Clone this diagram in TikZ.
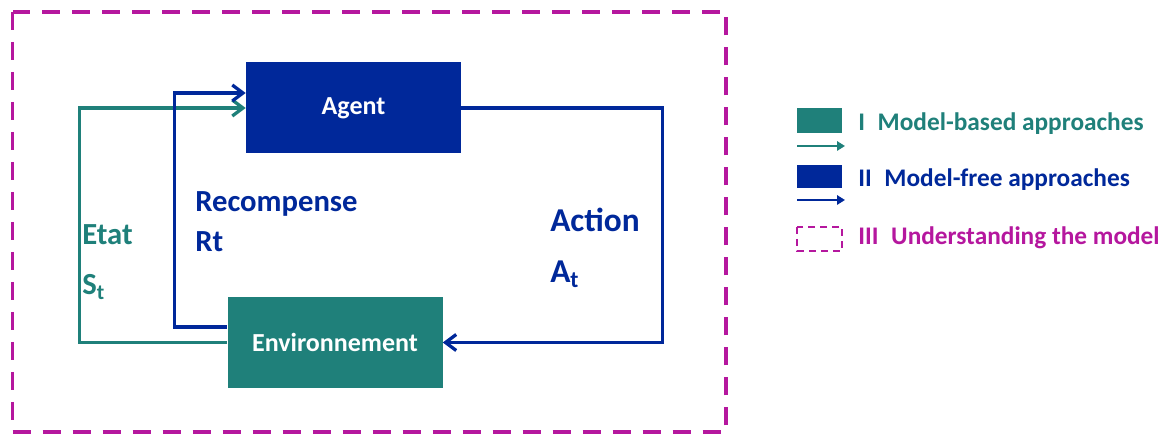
\documentclass[tikz,border=0pt]{standalone}
\usepackage{fontspec}
\setmainfont{Carlito}
\usetikzlibrary{arrows.meta}

\definecolor{tealgreen}{RGB}{31,128,122}
\definecolor{deepblue}{RGB}{0,40,154}
\definecolor{plum}{RGB}{181,23,158}

\tikzset{
	box/.style={minimum width=161.25pt,minimum height=68.25pt,inner sep=0pt,text=white,font=\bfseries\fontsize{19.5}{24}\selectfont},
	loopline/.style={line width=2.5pt,-{Straight Barb[length=8pt,width=12pt,line width=2.5pt]}},
	label/.style={anchor=base west,inner sep=0pt,font=\bfseries\fontsize{23}{27}\selectfont},
	legend/.style={anchor=base west,inner sep=0pt,font=\bfseries\fontsize{19}{23}\selectfont},
	keyarrow/.style={line width=1.8pt,-{Triangle[length=6pt,width=7pt]}}
}

\begin{document}
\begin{tikzpicture}[x=0.75pt,y=-0.75pt]
		\useasboundingbox (0,0) rectangle (1165,434);
		% frame of the model
		\draw[plum,line width=2.6pt,dash pattern=on 13.5pt off 9pt] (12.5,12) rectangle (726,432);
		% the two blocks
		\node[box,fill=deepblue] (agent) at (353.5,108) {Agent};
		\node[box,fill=tealgreen] (env) at (335,342.5) {Environnement};
		% loops
		\draw[loopline,tealgreen] (env.west) -- ++(-148,0) |- (agent.west);
		\draw[loopline,deepblue] ([yshift=11.5pt]env.west) -- ++(-53,0) |- ([yshift=11.25pt]agent.west);
		\draw[loopline,deepblue] (agent.east) -- ++(201,0) |- (env.east);
		% labels
		\node[label,tealgreen] (etat) at (82,245) {Etat};
		\node[label,tealgreen] (st) at (82,295) {S\textsubscript{t}};
		\node[label,deepblue] (reward) at (195,212) {Recompense};
		\node[label,deepblue] (rt) at (195,252) {Rt};
		\node[label,deepblue,font=\bfseries\fontsize{25}{29}\selectfont] (action) at (550,232) {Action};
		\node[label,deepblue,font=\bfseries\fontsize{25}{29}\selectfont] (at) at (550,283) {A\textsubscript{t}};
		% legend
		\fill[tealgreen] (797,108) rectangle (842,133);
		\draw[keyarrow,tealgreen] (797,146) -- (845,146);
		\node[legend,tealgreen] (keyI) at (858,131) {I\enspace Model-based approaches};
		\fill[deepblue] (797,165) rectangle (842,188);
		\draw[keyarrow,deepblue] (797,200) -- (845,200);
		\node[legend,deepblue] (keyII) at (858,187) {II\enspace Model-free approaches};
		\draw[plum,line width=1.8pt,dash pattern=on 5pt off 4pt] (797,227) rectangle (842,251);
		\node[legend,plum] (keyIII) at (858,245) {III\enspace Understanding the model};
	\end{tikzpicture}
\end{document}
